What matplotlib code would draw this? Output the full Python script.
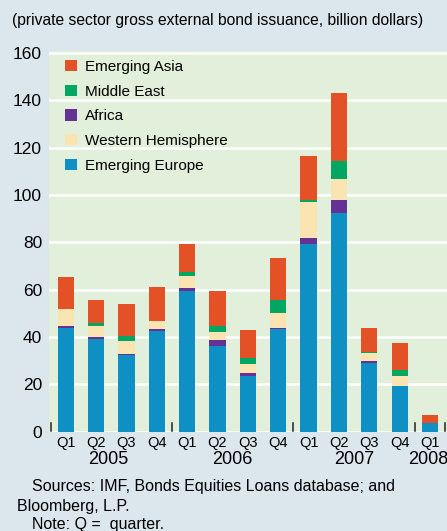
import matplotlib
matplotlib.use('Agg')
import matplotlib.pyplot as plt
import numpy as np

plt.rcParams['font.family'] = ['Liberation Sans', 'DejaVu Sans']

# data (billion dollars)
quarters = ['Q1', 'Q2', 'Q3', 'Q4', 'Q1', 'Q2', 'Q3', 'Q4', 'Q1', 'Q2', 'Q3', 'Q4', 'Q1']
years = ['2005', '2006', '2007', '2008']
emerging_europe = [43.8, 39.2, 32.4, 42.6, 59.5, 36.2, 23.5, 43.3, 79.3, 92.4, 29.0, 19.4, 3.7]
africa = [1.0, 1.0, 0.6, 0.9, 1.2, 2.6, 1.2, 0.7, 2.7, 5.5, 0.9, 0.0, 0.0]
western_hemisphere = [7.1, 4.6, 5.3, 3.3, 5.1, 3.3, 3.9, 6.2, 15.1, 8.9, 3.4, 4.3, 0.0]
middle_east = [0.0, 1.1, 2.3, 0.0, 1.8, 2.7, 2.7, 5.6, 1.0, 7.6, 0.5, 2.5, 0.0]
emerging_asia = [13.6, 9.8, 13.4, 14.4, 11.7, 14.7, 11.7, 17.6, 18.4, 28.8, 10.0, 11.3, 3.4]

series = [
    ('Emerging Europe', emerging_europe, '#0f90c5'),
    ('Africa', africa, '#663194'),
    ('Western Hemisphere', western_hemisphere, '#fae4b2'),
    ('Middle East', middle_east, '#00a661'),
    ('Emerging Asia', emerging_asia, '#e45126'),
]

W, H = 447, 531
fig = plt.figure(figsize=(W / 100, H / 100), dpi=100, facecolor='#dce6ed')
ax = fig.add_axes([49 / W, 1 - 431.7 / H, 1 - 49 / W, (431.7 - 50.7) / H])
ax.set_facecolor('#e2efda')

x = np.arange(len(quarters))
bottom = np.zeros(len(quarters))
handles = {}
for name, vals, col in series:
    b = ax.bar(x, vals, 0.535, bottom=bottom, color=col, label=name, zorder=3)
    handles[name] = b
    bottom += np.array(vals)

ax.set_ylim(0, 161)
ax.set_xlim(-0.55, 12.56)
ax.set_yticks(range(0, 161, 20))
ax.tick_params(axis='y', length=0, labelsize=12.5, pad=5)
ax.set_xticks(x)
ax.set_xticklabels(quarters)
ax.tick_params(axis='x', length=0, labelsize=10.5, pad=3)
for s in ax.spines.values():
    s.set_visible(False)
ax.grid(axis='y', color='white', linewidth=1.8, zorder=1)

# year separators
for sx in [-0.5, 3.5, 7.5, 11.5, 12.5]:
    ax.plot([sx, sx], [0.4, 3.6], color='#222222', linewidth=1.1, zorder=4, clip_on=False)

# year labels
for yr, pos in zip(years, [1.4, 5.5, 9.5, 11.93]):
    ax.text(pos, -11.8, yr, ha='center', va='center', fontsize=13)

order = ['Emerging Asia', 'Middle East', 'Africa', 'Western Hemisphere', 'Emerging Europe']
leg = ax.legend([handles[n] for n in order], order, loc='upper left',
                bbox_to_anchor=(0.018, 1.0), frameon=False, fontsize=11,
                handlelength=0.75, handleheight=0.75, handletextpad=0.55,
                labelspacing=0.7, borderaxespad=0.2)

fig.text(12.5 / W, 1 - 20 / H, '(private sector gross external bond issuance, billion dollars)',
         ha='left', va='center', fontsize=11.25)
fig.text(32 / W, 1 - 487 / H, 'Sources: IMF, Bonds Equities Loans database; and',
         ha='left', va='center', fontsize=11.5)
fig.text(17 / W, 1 - 506.5 / H, 'Bloomberg, L.P.', ha='left', va='center', fontsize=11.5)
fig.text(32 / W, 1 - 525 / H, 'Note: Q =  quarter.', ha='left', va='center', fontsize=11.5)

fig.savefig('out.png', dpi=100, facecolor=fig.get_facecolor())
